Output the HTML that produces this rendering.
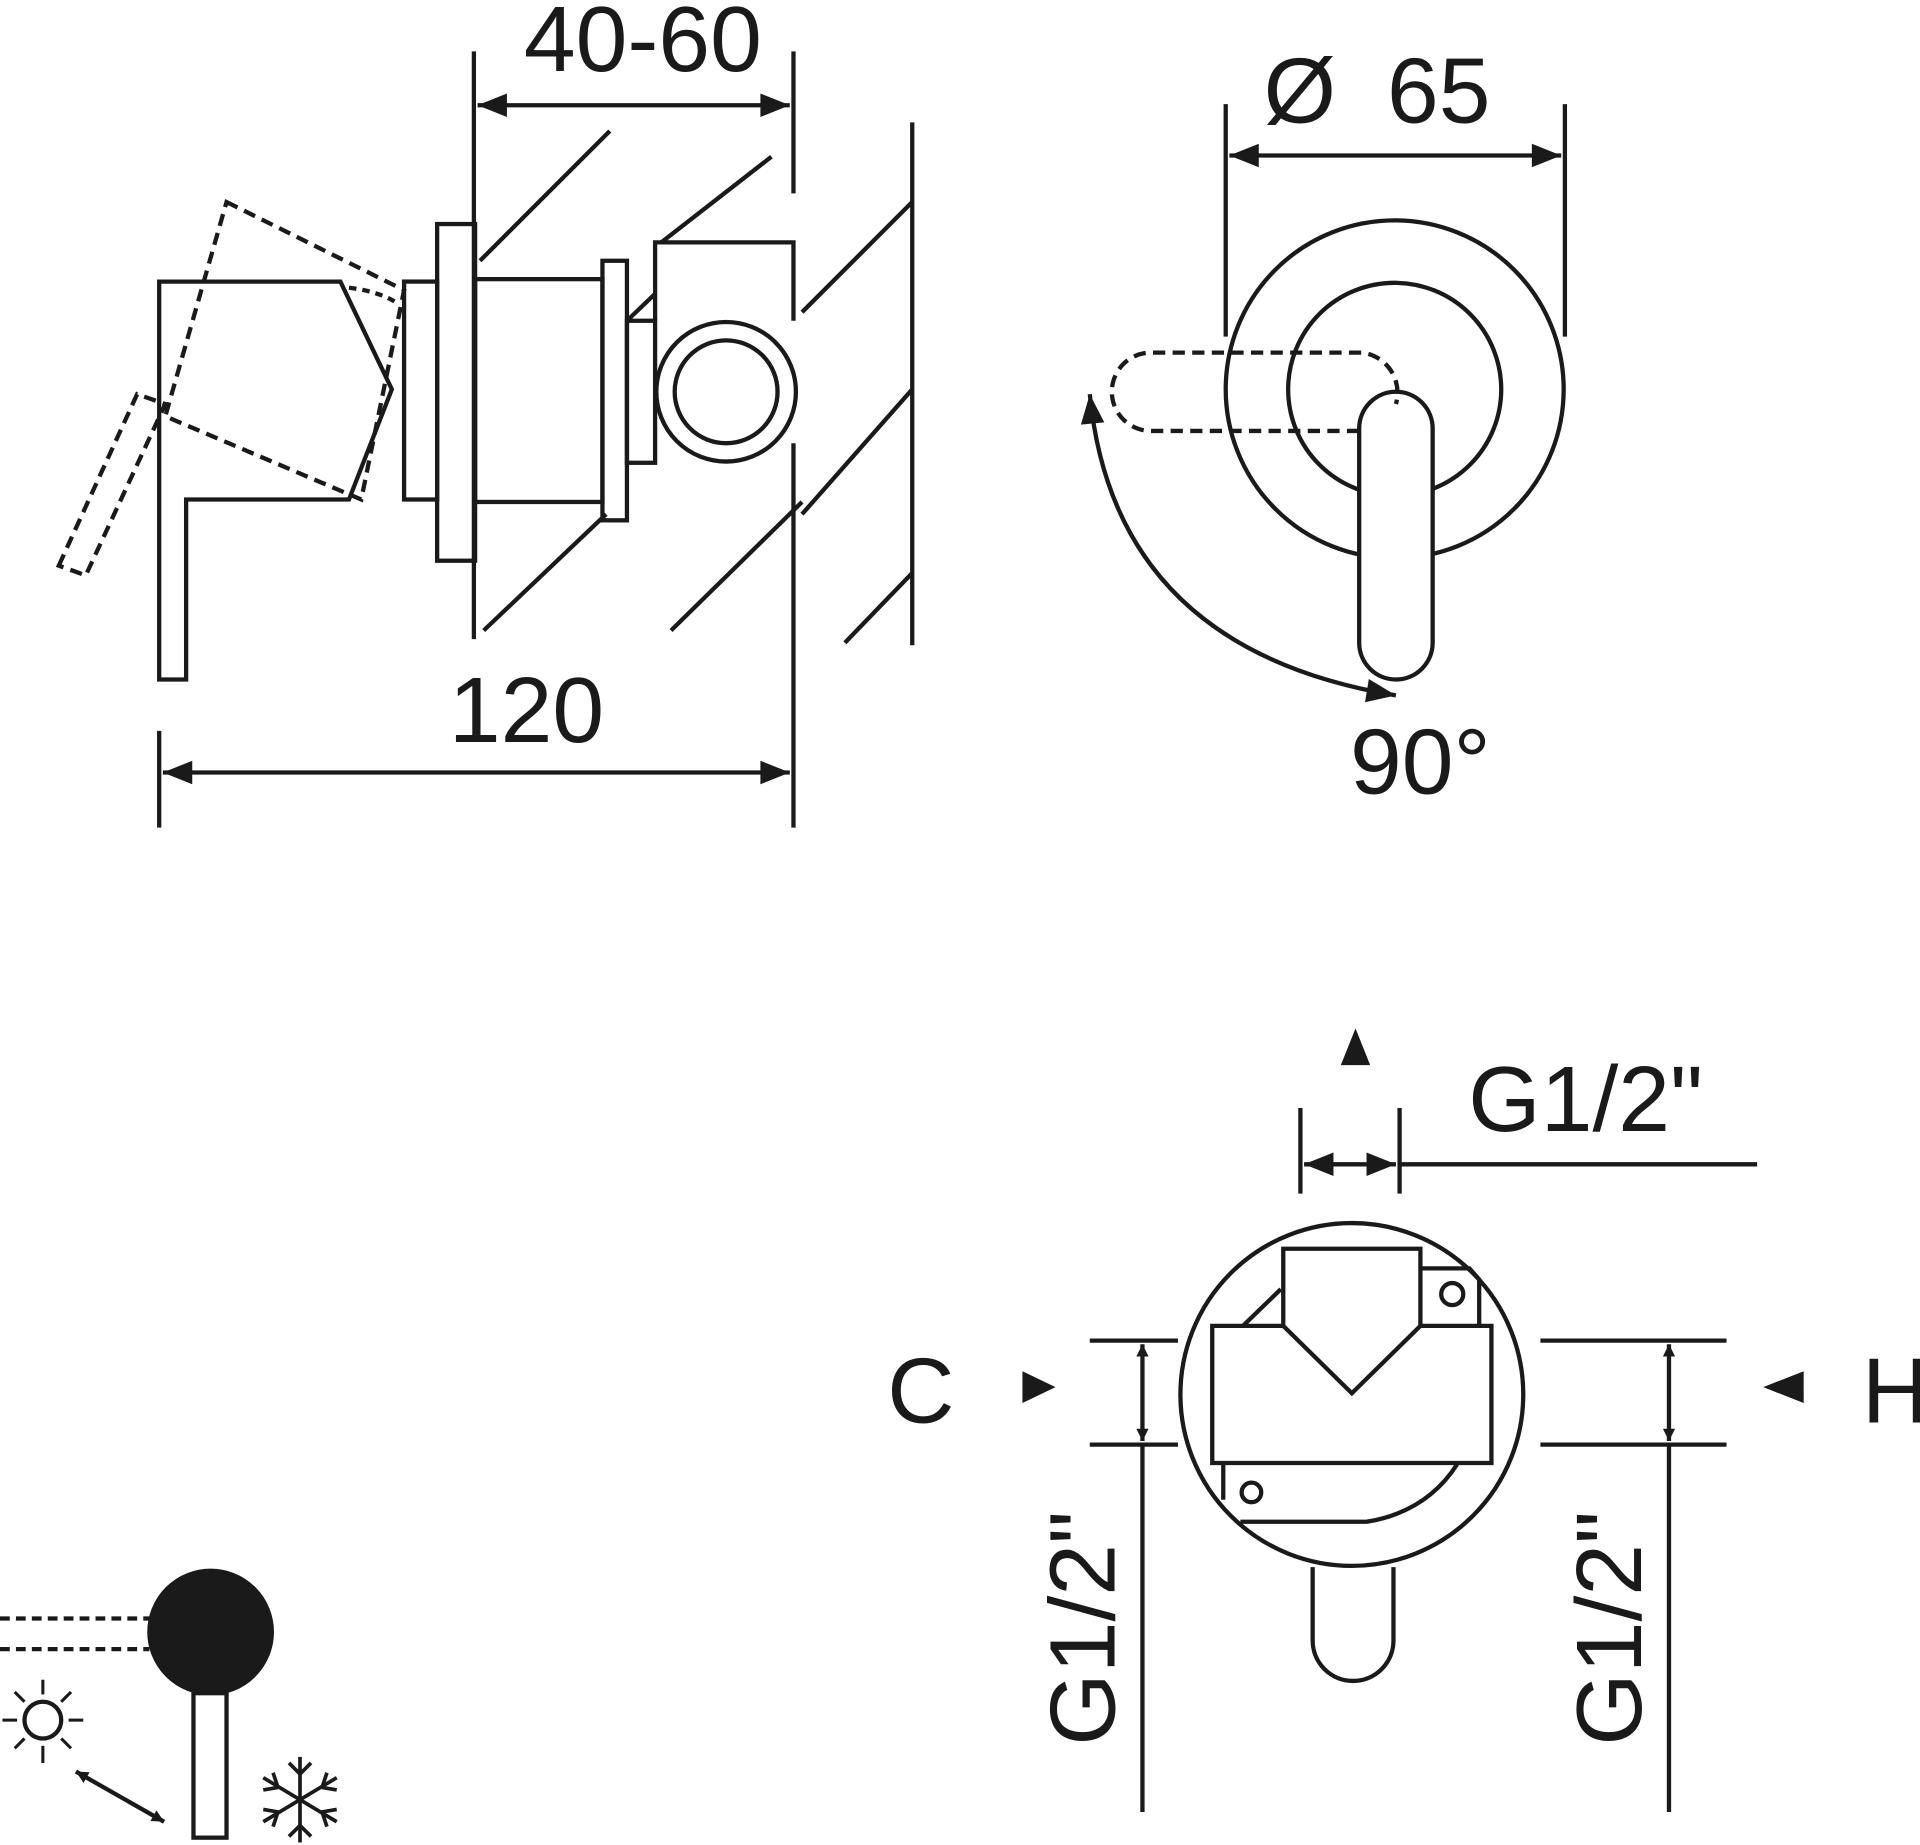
<!DOCTYPE html>
<html><head><meta charset="utf-8"><style>
html,body{margin:0;padding:0;background:#fff;}
svg{display:block;}
text{font-family:"Liberation Sans",sans-serif;fill:#1a1a1a;}
</style></head><body>
<svg width="1920" height="1845" viewBox="0 0 1568 1507" preserveAspectRatio="none" xmlns="http://www.w3.org/2000/svg">
<defs>
<marker id="a" viewBox="0 0 10 10" refX="10" refY="5" markerWidth="12" markerHeight="10" orient="auto-start-reverse" markerUnits="userSpaceOnUse"><path d="M0,0 L10,5 L0,10 z" fill="#1a1a1a"/></marker>
<marker id="b" viewBox="0 0 10 10" refX="10" refY="5" markerWidth="30" markerHeight="24" orient="auto-start-reverse" markerUnits="userSpaceOnUse"><path d="M0,1 L10,5 L0,9 z" fill="#1a1a1a"/></marker>
</defs>
<g stroke="#1a1a1a" stroke-width="3.5" fill="none">
<!-- TOP LEFT -->
<line x1="387" y1="42" x2="387" y2="522"/>
<line x1="648" y1="42" x2="648" y2="158"/>
<line x1="648" y1="362" x2="648" y2="676"/>
<line x1="390" y1="86" x2="645" y2="86" marker-start="url(#b)" marker-end="url(#b)"/>
<line x1="745" y1="100" x2="745" y2="527"/>
<line x1="392" y1="213" x2="498" y2="107"/>
<line x1="540" y1="198" x2="630" y2="128"/>
<line x1="655" y1="255" x2="745" y2="165"/>
<line x1="655" y1="420" x2="745" y2="318"/>
<line x1="548" y1="515" x2="655" y2="410"/>
<line x1="690" y1="525" x2="745" y2="468"/>
<line x1="395" y1="515" x2="495" y2="420"/>
<line x1="512" y1="262" x2="535" y2="240"/>
<!-- handle -->
<path d="M130,555 L130,230 L278,230 L320,318 L285,408 L152,408 L152,555 Z"/>
<path d="M185,165 L330,237 L295,408 L135,340 Z" stroke-dasharray="10,6"/>
<path d="M48,462 L112,322 L135,330 L70,470 Z" stroke-dasharray="10,6"/>
<path d="M285,235 Q310,238 325,248" stroke-dasharray="6,5"/>
<rect x="330" y="230" width="27" height="178"/>
<rect x="357" y="183" width="31" height="275"/>
<rect x="388" y="228" width="104" height="182"/>
<rect x="492" y="213" width="20" height="212"/>
<rect x="512" y="262" width="23" height="116"/>
<path d="M535,262 L535,198 L648,198 L648,262"/>
<circle cx="593" cy="320" r="57"/>
<circle cx="593" cy="320" r="42"/>
<line x1="130" y1="597" x2="130" y2="676"/>
<line x1="133" y1="631" x2="645" y2="631" marker-start="url(#b)" marker-end="url(#b)"/>
<!-- TOP RIGHT -->
<line x1="1001" y1="85" x2="1001" y2="275"/>
<line x1="1278" y1="85" x2="1278" y2="275"/>
<line x1="1004" y1="127" x2="1275" y2="127" marker-start="url(#b)" marker-end="url(#b)"/>
<circle cx="1139" cy="318" r="138"/>
<circle cx="1139" cy="318" r="87"/>
<path d="M1110,350 A30,30 0 0 1 1170,350 L1170,525 A30,30 0 0 1 1110,525 Z" fill="#fff"/>
<path d="M1110,352 L940,352 A32,32 0 0 1 940,288 L1112,288 A33,33 0 0 1 1140,330" stroke-dasharray="10,6"/>
<path d="M890,322 Q910,530 1140,568" marker-start="url(#b)" marker-end="url(#b)"/>
<!-- BOTTOM RIGHT -->
<path d="M1095,870 L1107,840 L1119,870 Z" fill="#1a1a1a" stroke="none"/>
<line x1="1062" y1="905" x2="1062" y2="975"/>
<line x1="1143" y1="905" x2="1143" y2="975"/>
<line x1="1065" y1="951" x2="1140" y2="951" marker-start="url(#b)" marker-end="url(#b)"/>
<line x1="1143" y1="951" x2="1435" y2="951"/>
<circle cx="1104" cy="1139" r="140"/>
<path d="M1048,1083 L1048,1020 L1160,1020 L1160,1083"/>
<path d="M990,1083 L1048,1083 L1104,1138 L1160,1083 L1218,1083 L1218,1195 L990,1195 Z"/>
<path d="M1160,1036 L1200,1036 L1208,1045 L1208,1083"/>
<circle cx="1186" cy="1057" r="9"/>
<circle cx="1022" cy="1219" r="8"/>
<line x1="1015" y1="1083" x2="1046" y2="1053"/>
<path d="M999,1196 L999,1225"/>
<path d="M1013,1243 L1116,1243 Q1165,1235 1190,1196"/>
<path d="M1072,1280 L1072,1340 A33,33 0 0 0 1138,1340 L1138,1280"/>
<path d="M835,1120 L862,1133 L835,1146 Z" fill="#1a1a1a" stroke="none"/>
<path d="M1473,1120 L1440,1133 L1473,1146 Z" fill="#1a1a1a" stroke="none"/>
<line x1="890" y1="1095" x2="962" y2="1095"/>
<line x1="890" y1="1180" x2="962" y2="1180"/>
<line x1="933" y1="1098" x2="933" y2="1177" marker-start="url(#a)" marker-end="url(#a)"/>
<line x1="933" y1="1180" x2="933" y2="1480"/>
<line x1="1258" y1="1095" x2="1410" y2="1095"/>
<line x1="1258" y1="1180" x2="1410" y2="1180"/>
<line x1="1363" y1="1098" x2="1363" y2="1177" marker-start="url(#a)" marker-end="url(#a)"/>
<line x1="1363" y1="1180" x2="1363" y2="1480"/>
<!-- BOTTOM LEFT -->
<circle cx="172" cy="1333" r="50" fill="#1a1a1a"/>
<rect x="158" y="1383" width="27" height="118" fill="#fff"/>
<line x1="0" y1="1322" x2="122" y2="1322" stroke-dasharray="8,5"/>
<line x1="0" y1="1347" x2="122" y2="1347" stroke-dasharray="8,5"/>
<circle cx="35" cy="1405" r="15"/>
<g stroke-width="2.5">
<line x1="35" y1="1372" x2="35" y2="1384"/><line x1="35" y1="1426" x2="35" y2="1440"/>
<line x1="2" y1="1405" x2="14" y2="1405"/><line x1="56" y1="1405" x2="68" y2="1405"/>
<line x1="12" y1="1382" x2="20" y2="1390"/><line x1="50" y1="1420" x2="58" y2="1428"/>
<line x1="58" y1="1382" x2="50" y2="1390"/><line x1="20" y1="1420" x2="12" y2="1428"/>
</g>
<line x1="62" y1="1447" x2="134" y2="1488" marker-start="url(#a)" marker-end="url(#a)"/>
<g stroke-width="3">
<line x1="245" y1="1435" x2="245" y2="1505"/>
<line x1="215" y1="1452" x2="275" y2="1488"/>
<line x1="275" y1="1452" x2="215" y2="1488"/>
<polyline points="236,1440 245,1449 254,1440"/>
<polyline points="236,1500 245,1491 254,1500"/>
<polyline points="215,1462 227,1460 223,1448"/>
<polyline points="275,1478 263,1480 267,1492"/>
<polyline points="275,1462 263,1460 267,1448"/>
<polyline points="215,1478 227,1480 223,1492"/>
</g>
</g>
<text x="525" y="58" font-size="76" text-anchor="middle">40-60</text>
<text x="430" y="606" font-size="76" text-anchor="middle">120</text>
<text x="1032" y="100" font-size="76">Ø</text>
<text x="1175" y="100" font-size="76" text-anchor="middle">65</text>
<text x="1160" y="648" font-size="76" text-anchor="middle">90°</text>
<text x="1295" y="924" font-size="76" text-anchor="middle">G1/2"</text>
<text x="752" y="1162" font-size="76" text-anchor="middle">C</text>
<text x="1548" y="1162" font-size="76" text-anchor="middle">H</text>
<text transform="translate(910,1330) rotate(-90)" font-size="76" text-anchor="middle">G1/2"</text>
<text transform="translate(1340,1330) rotate(-90)" font-size="76" text-anchor="middle">G1/2"</text>
</svg>
</body></html>
